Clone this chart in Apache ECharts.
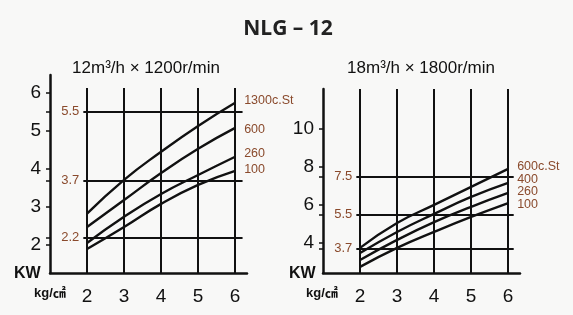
<!DOCTYPE html>
<html>
<head>
<meta charset="utf-8">
<script src="https://cdn.jsdelivr.net/npm/echarts@6/dist/echarts.min.js"></script>
<style>
  html, body { margin: 0; padding: 0; background: #f8f8f7; }
  #chart { width: 573px; height: 315px; }
</style>
</head>
<body>
<div id="chart"></div>
<script>
// 压力 kg/㎠
var pressure = [2, 3, 4, 5, 6];

// NLG-12, 12m3/h x 1200r/min
var leftNames = ['1300c.St', '600', '260', '100'];
var left1300 = [2.82, 3.71, 4.45, 5.13, 5.74];
var left600 = [2.47, 3.18, 3.89, 4.53, 5.08];
var left260 = [2.05, 2.74, 3.34, 3.84, 4.32];
var left100 = [1.89, 2.47, 3.08, 3.58, 3.95];
var leftLevels = [5.5, 3.7, 2.2];
var leftTicks = [2, 3, 4, 5, 6];

// 18m3/h x 1800r/min
var rightNames = ['600c.St', '400', '260', '100'];
var right600 = [3.74, 5.05, 6.0, 6.95, 7.9];
var right400 = [3.47, 4.58, 5.53, 6.42, 7.16];
var right260 = [3.1, 4.16, 5.1, 5.9, 6.63];
var right100 = [2.74, 3.74, 4.58, 5.37, 6.1];
var rightLevels = [7.5, 5.5, 3.7];
var rightTicks = [4, 6, 8, 10];

var brown = '#8a4a2c';
var numFont = 'Liberation Sans Narrow, Liberation Sans, Arial, sans-serif';

var chart = echarts.init(document.getElementById('chart'));

function pairs(vals) {
  return pressure.map(function (p, i) { return [p, vals[i]]; });
}

function curve(name, vals, idx, dy) {
  return {
    name: name,
    type: 'line',
    xAxisIndex: idx,
    yAxisIndex: idx,
    data: pairs(vals),
    smooth: true,
    symbol: 'none',
    silent: true,
    lineStyle: { color: '#111', width: 2.4 },
    endLabel: {
      show: true,
      formatter: name,
      color: brown,
      fontSize: 12.5,
      fontFamily: numFont,
      distance: 9,
      offset: [0, dy]
    }
  };
}

// 网格线 (竖线 + 水平参考线)
function gridLines(idx, levels, yMin, yTop, xEnd) {
  var data = [];
  pressure.forEach(function (p) {
    data.push([{ coord: [p, yMin] }, { coord: [p, yTop] }]);
  });
  levels.forEach(function (v) {
    data.push([
      { coord: [1.9, v], label: { show: true, formatter: String(v), position: 'start' } },
      { coord: [xEnd, v] }
    ]);
  });
  return {
    type: 'line',
    xAxisIndex: idx,
    yAxisIndex: idx,
    data: [],
    silent: true,
    markLine: {
      silent: true,
      symbol: 'none',
      animation: false,
      lineStyle: { color: '#111', width: 2, type: 'solid' },
      label: { show: false, color: brown, fontSize: 13, fontFamily: numFont, distance: 4 },
      data: data
    }
  };
}

function xAxis(idx) {
  return {
    type: 'value',
    gridIndex: idx,
    min: 1,
    max: 6.32,
    axisLine: { show: true, lineStyle: { color: '#111', width: 2.5 } },
    axisTick: { show: false },
    splitLine: { show: false },
    axisLabel: {
      customValues: pressure,
      color: '#111',
      fontSize: 19,
      fontFamily: numFont,
      margin: 14
    }
  };
}

function yAxis(idx, min, max, ticks, levels) {
  return {
    type: 'value',
    gridIndex: idx,
    min: min,
    max: max,
    axisLine: { show: true, lineStyle: { color: '#111', width: 2.5 } },
    axisTick: { show: true, length: 4, customValues: ticks.concat(levels), lineStyle: { color: '#111', width: 1.5 } },
    splitLine: { show: false },
    axisLabel: {
      customValues: ticks,
      color: '#111',
      fontSize: 19,
      fontFamily: numFont,
      margin: 9
    }
  };
}

var option = {
  backgroundColor: '#f8f8f7',
  animation: false,
  title: [
    {
      text: 'NLG – 12',
      left: 283, top: 14, textAlign: 'center',
      textStyle: { fontSize: 21, fontWeight: 'bold', fontFamily: 'Open Sans, Noto Sans, sans-serif', color: '#222' }
    },
    {
      text: '12m³/h × 1200r/min',
      left: 141, top: 55, textAlign: 'center',
      textStyle: { fontSize: 17, fontWeight: 'normal', fontFamily: numFont, color: '#111' }
    },
    {
      text: '18m³/h × 1800r/min',
      left: 416, top: 55, textAlign: 'center',
      textStyle: { fontSize: 17, fontWeight: 'normal', fontFamily: numFont, color: '#111' }
    }
  ],
  grid: [
    { left: 50, top: 75, width: 197, height: 198 },
    { left: 323, top: 89, width: 197, height: 184 }
  ],
  xAxis: [xAxis(0), xAxis(1)],
  yAxis: [
    yAxis(0, 1.26, 6.47, leftTicks, leftLevels),
    yAxis(1, 2.42, 12.1, rightTicks, rightLevels)
  ],
  graphic: [
    { type: 'text', left: 14, top: 266, style: { text: 'KW', font: 'bold 16px Liberation Sans, Arial, sans-serif', fill: '#111' } },
    { type: 'text', left: 34, top: 287, style: { text: 'kg/㎠', font: 'bold 13px Liberation Sans, Noto Sans CJK SC, sans-serif', fill: '#111' } },
    { type: 'text', left: 289, top: 266, style: { text: 'KW', font: 'bold 16px Liberation Sans, Arial, sans-serif', fill: '#111' } },
    { type: 'text', left: 306, top: 287, style: { text: 'kg/㎠', font: 'bold 13px Liberation Sans, Noto Sans CJK SC, sans-serif', fill: '#111' } }
  ],
  series: [
    gridLines(0, leftLevels, 1.26, 6.13, 6.2),
    gridLines(1, rightLevels, 2.42, 12.1, 6.15),
    curve(leftNames[0], left1300, 0, -2),
    curve(leftNames[1], left600, 0, 2),
    curve(leftNames[2], left260, 0, -3),
    curve(leftNames[3], left100, 0, -1),
    curve(rightNames[0], right600, 1, -2),
    curve(rightNames[1], right400, 1, -3),
    curve(rightNames[2], right260, 1, -1),
    curve(rightNames[3], right100, 1, 1)
  ]
};

chart.setOption(option);
</script>
</body>
</html>
